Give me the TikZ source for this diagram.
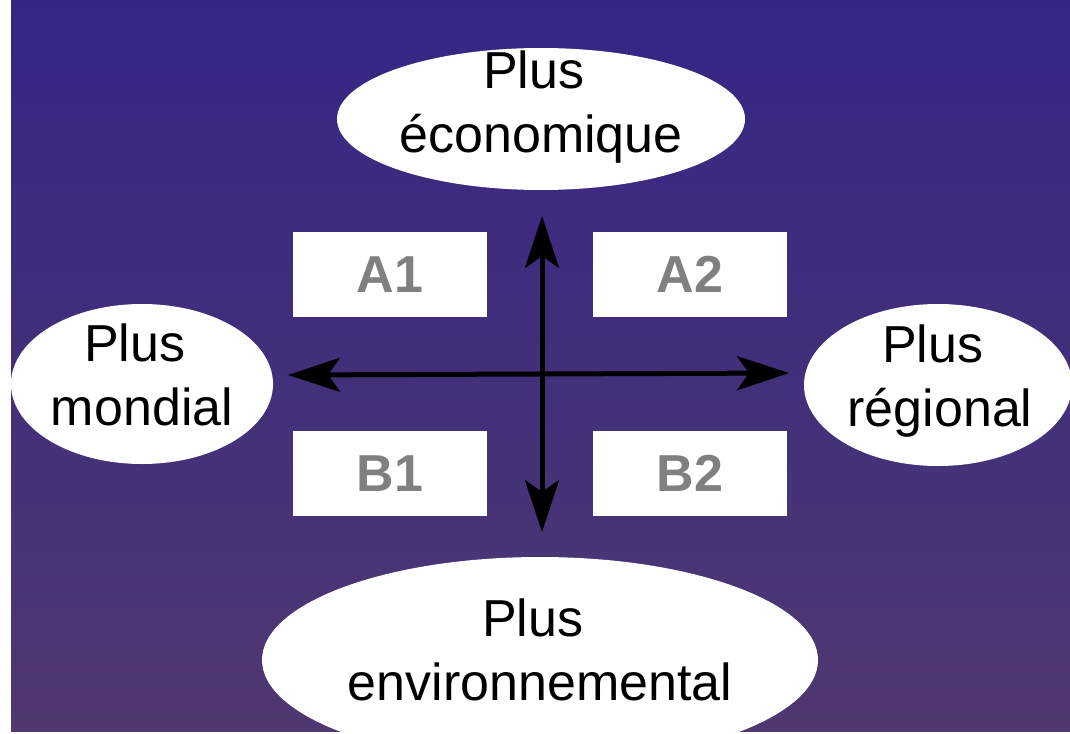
\documentclass[tikz,border=0pt]{standalone}
\usepackage{fontspec}
\setmainfont{Liberation Sans}
\usetikzlibrary{arrows.meta,shapes.geometric}
\definecolor{bgtop}{HTML}{352685}
\definecolor{bgbot}{HTML}{4F3870}
\definecolor{lblgray}{HTML}{808080}
\newcommand{\plussp}{Plus\kern0.278em}
\begin{document}
\begin{tikzpicture}[x=1pt,y=-1pt,
  oval/.style={ellipse,fill=white,draw=none,inner sep=0pt},
  lbl/.style={align=center,text=black,font=\fontsize{52}{64}\selectfont,inner sep=0pt},
  quad/.style={rectangle,fill=white,minimum width=194pt,minimum height=85pt,inner sep=0pt,text=lblgray,font=\fontsize{52}{60}\selectfont\bfseries},
  axisarrow/.style={line width=5pt,{Stealth[length=52pt,width=34pt,inset=12pt]}-{Stealth[length=52pt,width=34pt,inset=12pt]}}]
\useasboundingbox (0,0) rectangle (1070,733);
\fill[white] (0,0) rectangle (1070,733);
\clip (0,0) rectangle (1070,733);
\shade[top color=bgtop,bottom color=bgbot] (11,0) rectangle (1070,731);
% ellipses
\node[oval,minimum width=408pt,minimum height=142pt] (eco) at (541,119) {};
\node[oval,minimum width=262pt,minimum height=160pt] (mond) at (142,384) {};
\node[oval,minimum width=268pt,minimum height=162pt] (reg) at (938,385) {};
\node[oval,minimum width=556pt,minimum height=206pt] (env) at (540,660) {};
% texts
\node[lbl] (teco) at (541,107.5) {\plussp\\économique};
\node[lbl] (tmond) at (142,374.5) {\plussp\\mondial};
\node[lbl] (treg) at (940,381.5) {\plussp\\régional};
\node[lbl] (tenv) at (540,649.5) {\plussp\\environnemental};
% quadrant boxes
\node[quad] (a1) at (390,274.5) {A1};
\node[quad] (a2) at (690,274.5) {A2};
\node[quad] (b1) at (390,473.5) {B1};
\node[quad] (b2) at (690,473.5) {B2};
% axes
\coordinate (vt) at (542,216);
\coordinate (vb) at (542,532);
\coordinate (hl) at (288,375);
\coordinate (hr) at (789,373);
\draw[axisarrow] (vt) -- (vb);
\draw[axisarrow] (hl) -- (hr);
\end{tikzpicture}
\end{document}
